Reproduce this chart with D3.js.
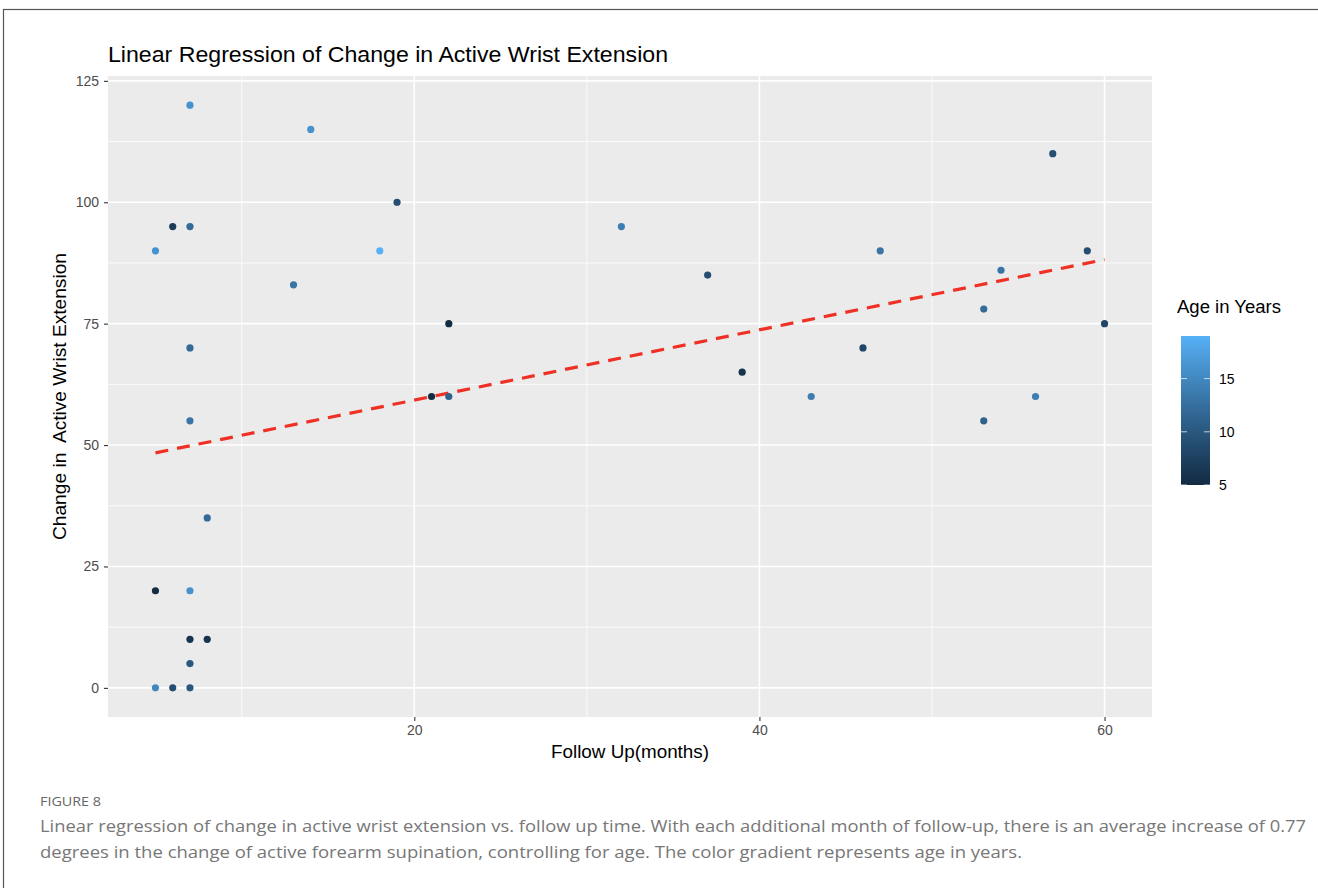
<!DOCTYPE html>
<html>
<head>
<meta charset="utf-8">
<script src="https://cdn.jsdelivr.net/npm/d3@7"></script>
<style>
  body { margin: 0; background: #fff; }
  svg { display: block; }
</style>
</head>
<body>
<script>
// follow up (months), change in active wrist extension, age in years
const followUp = [7, 14, 6, 7, 5, 13, 7, 7, 8, 5, 7, 7, 8, 7, 5, 6, 7,
                  19, 18, 22, 21, 22, 32, 37, 39, 43, 46, 47,
                  57, 59, 54, 53, 60, 56, 53];
const change   = [120, 115, 95, 95, 90, 83, 70, 55, 35, 20, 20, 10, 10, 5, 0, 0, 0,
                  100, 90, 75, 60, 60, 95, 85, 65, 60, 70, 90,
                  110, 90, 86, 78, 75, 60, 55];
const age      = [16, 16, 7, 12, 16, 13, 12, 13, 12, 5, 16, 6, 6, 10, 15, 9, 10,
                  9, 19, 5, 5, 11, 14, 9, 6, 14, 8, 13,
                  9, 9, 13, 12, 8, 14, 11];
// fitted line (read from endpoints)
const fitX = [5, 60];
const fitY = [48.4, 88.2];

const xTicks = [20, 40, 60];
const xMinor = [10, 30, 50];
const yTicks = [0, 25, 50, 75, 100, 125];
const yMinor = [12.5, 37.5, 62.5, 87.5, 112.5];
const ageTicks = [5, 10, 15];

const W = 1318, H = 888;
const panel = { left: 108, right: 1152, top: 76, bottom: 717 };
const font = "'Liberation Sans', Arial, sans-serif";

const svg = d3.select("body").append("svg")
    .attr("width", W).attr("height", H)
    .style("font-family", font);

// outer frame
svg.append("rect")
    .attr("x", 3.5).attr("y", 9.5)
    .attr("width", W + 20).attr("height", H + 20)
    .attr("fill", "none").attr("stroke", "#555").attr("stroke-width", 1.2);

const x = d3.scaleLinear().domain([2.25, 62.75]).range([panel.left, panel.right]);
const y = d3.scaleLinear().domain([-6, 126]).range([panel.bottom, panel.top]);
const ageExtent = d3.extent(age);
const color = d3.scaleLinear().domain(ageExtent)
    .range(["#132B43", "#56B1F7"]).interpolate(d3.interpolateLab);

// panel background
svg.append("rect")
    .attr("x", panel.left).attr("y", panel.top)
    .attr("width", panel.right - panel.left).attr("height", panel.bottom - panel.top)
    .attr("fill", "#EBEBEB");

const grid = svg.append("g");
grid.selectAll(".xminor").data(xMinor).enter().append("line")
    .attr("x1", d => x(d)).attr("x2", d => x(d))
    .attr("y1", panel.top).attr("y2", panel.bottom)
    .attr("stroke", "#fff").attr("stroke-width", 0.8);
grid.selectAll(".yminor").data(yMinor).enter().append("line")
    .attr("y1", d => y(d)).attr("y2", d => y(d))
    .attr("x1", panel.left).attr("x2", panel.right)
    .attr("stroke", "#fff").attr("stroke-width", 0.8);
grid.selectAll(".xmajor").data(xTicks).enter().append("line")
    .attr("x1", d => x(d)).attr("x2", d => x(d))
    .attr("y1", panel.top).attr("y2", panel.bottom)
    .attr("stroke", "#fff").attr("stroke-width", 1.6);
grid.selectAll(".ymajor").data(yTicks.filter(d => y(d) > panel.top)).enter().append("line")
    .attr("y1", d => y(d)).attr("y2", d => y(d))
    .attr("x1", panel.left).attr("x2", panel.right)
    .attr("stroke", "#fff").attr("stroke-width", 1.6);

// axes
const xAxis = svg.append("g")
    .attr("transform", `translate(0,${panel.bottom})`)
    .call(d3.axisBottom(x).tickValues(xTicks).tickSize(4).tickPadding(4));
const yAxis = svg.append("g")
    .attr("transform", `translate(${panel.left},0)`)
    .call(d3.axisLeft(y).tickValues(yTicks).tickSize(4).tickPadding(5));
[xAxis, yAxis].forEach(a => {
    a.select(".domain").remove();
    a.selectAll(".tick line").attr("stroke", "#333").attr("stroke-width", 1.1);
    a.selectAll(".tick text").attr("fill", "#4D4D4D")
        .style("font-size", "14px").style("font-family", font);
});

// regression line
svg.append("path")
    .datum(fitX.map((d, i) => [d, fitY[i]]))
    .attr("d", d3.line().x(d => x(d[0])).y(d => y(d[1])))
    .attr("fill", "none").attr("stroke", "#EE3124")
    .attr("stroke-width", 3.2).attr("stroke-dasharray", "13,9");

// points
svg.append("g").selectAll("circle")
    .data(d3.range(followUp.length))
    .enter().append("circle")
    .attr("cx", i => x(followUp[i]))
    .attr("cy", i => y(change[i]))
    .attr("r", 3.6)
    .attr("fill", i => color(age[i]));

// titles
svg.append("text")
    .attr("x", panel.left).attr("y", 62)
    .style("font-size", "22px").attr("fill", "#000")
    .attr("textLength", 560).attr("lengthAdjust", "spacingAndGlyphs")
    .text("Linear Regression of Change in Active Wrist Extension");

svg.append("text")
    .attr("x", (panel.left + panel.right) / 2).attr("y", 758)
    .attr("text-anchor", "middle")
    .style("font-size", "17.5px").attr("fill", "#000")
    .attr("textLength", 158).attr("lengthAdjust", "spacingAndGlyphs")
    .text("Follow Up(months)");

svg.append("text")
    .attr("transform", `translate(66,${(panel.top + panel.bottom) / 2}) rotate(-90)`)
    .attr("text-anchor", "middle")
    .style("font-size", "17.5px").attr("fill", "#000")
    .style("white-space", "pre")
    .attr("textLength", 287).attr("lengthAdjust", "spacingAndGlyphs")
    .text("Change in  Active Wrist Extension");

// legend
const leg = { x: 1181, top: 336, bottom: 485, w: 29 };
svg.append("text")
    .attr("x", 1177).attr("y", 313)
    .style("font-size", "17.5px").attr("fill", "#000")
    .attr("textLength", 104).attr("lengthAdjust", "spacingAndGlyphs")
    .text("Age in Years");

const defs = svg.append("defs");
const grad = defs.append("linearGradient").attr("id", "ageGrad")
    .attr("x1", 0).attr("y1", 1).attr("x2", 0).attr("y2", 0);
d3.range(0, 1.0001, 0.1).forEach(t => {
    grad.append("stop").attr("offset", t)
        .attr("stop-color", color(ageExtent[0] + t * (ageExtent[1] - ageExtent[0])));
});
const ly = d3.scaleLinear().domain(ageExtent).range([leg.bottom, leg.top]);
svg.append("rect")
    .attr("x", leg.x).attr("y", leg.top)
    .attr("width", leg.w).attr("height", leg.bottom - leg.top)
    .attr("fill", "url(#ageGrad)");
const lt = svg.append("g").selectAll("g").data(ageTicks).enter().append("g");
lt.append("line")
    .attr("x1", leg.x).attr("x2", leg.x + 6)
    .attr("y1", d => ly(d)).attr("y2", d => ly(d))
    .attr("stroke", "#fff").attr("stroke-opacity", 0.7);
lt.append("line")
    .attr("x1", leg.x + leg.w - 6).attr("x2", leg.x + leg.w)
    .attr("y1", d => ly(d)).attr("y2", d => ly(d))
    .attr("stroke", "#fff").attr("stroke-opacity", 0.7);
lt.append("text")
    .attr("x", leg.x + leg.w + 9).attr("y", d => ly(d))
    .attr("dy", "0.36em")
    .style("font-size", "14px").attr("fill", "#000")
    .text(d => d);

// caption
const capFont = "'Open Sans', 'Noto Sans', sans-serif";
svg.append("text")
    .attr("x", 40).attr("y", 806)
    .style("font-family", capFont).style("font-size", "12px")
    .attr("fill", "#666").attr("textLength", 61).attr("lengthAdjust", "spacingAndGlyphs")
    .text("FIGURE 8");
svg.append("text")
    .attr("x", 40).attr("y", 832)
    .style("font-family", capFont).style("font-size", "16px")
    .attr("fill", "#777").attr("textLength", 1266).attr("lengthAdjust", "spacingAndGlyphs")
    .text("Linear regression of change in active wrist extension vs. follow up time. With each additional month of follow-up, there is an average increase of 0.77");
svg.append("text")
    .attr("x", 40).attr("y", 858)
    .style("font-family", capFont).style("font-size", "16px")
    .attr("fill", "#777").attr("textLength", 982).attr("lengthAdjust", "spacingAndGlyphs")
    .text("degrees in the change of active forearm supination, controlling for age. The color gradient represents age in years.");
</script>
</body>
</html>
